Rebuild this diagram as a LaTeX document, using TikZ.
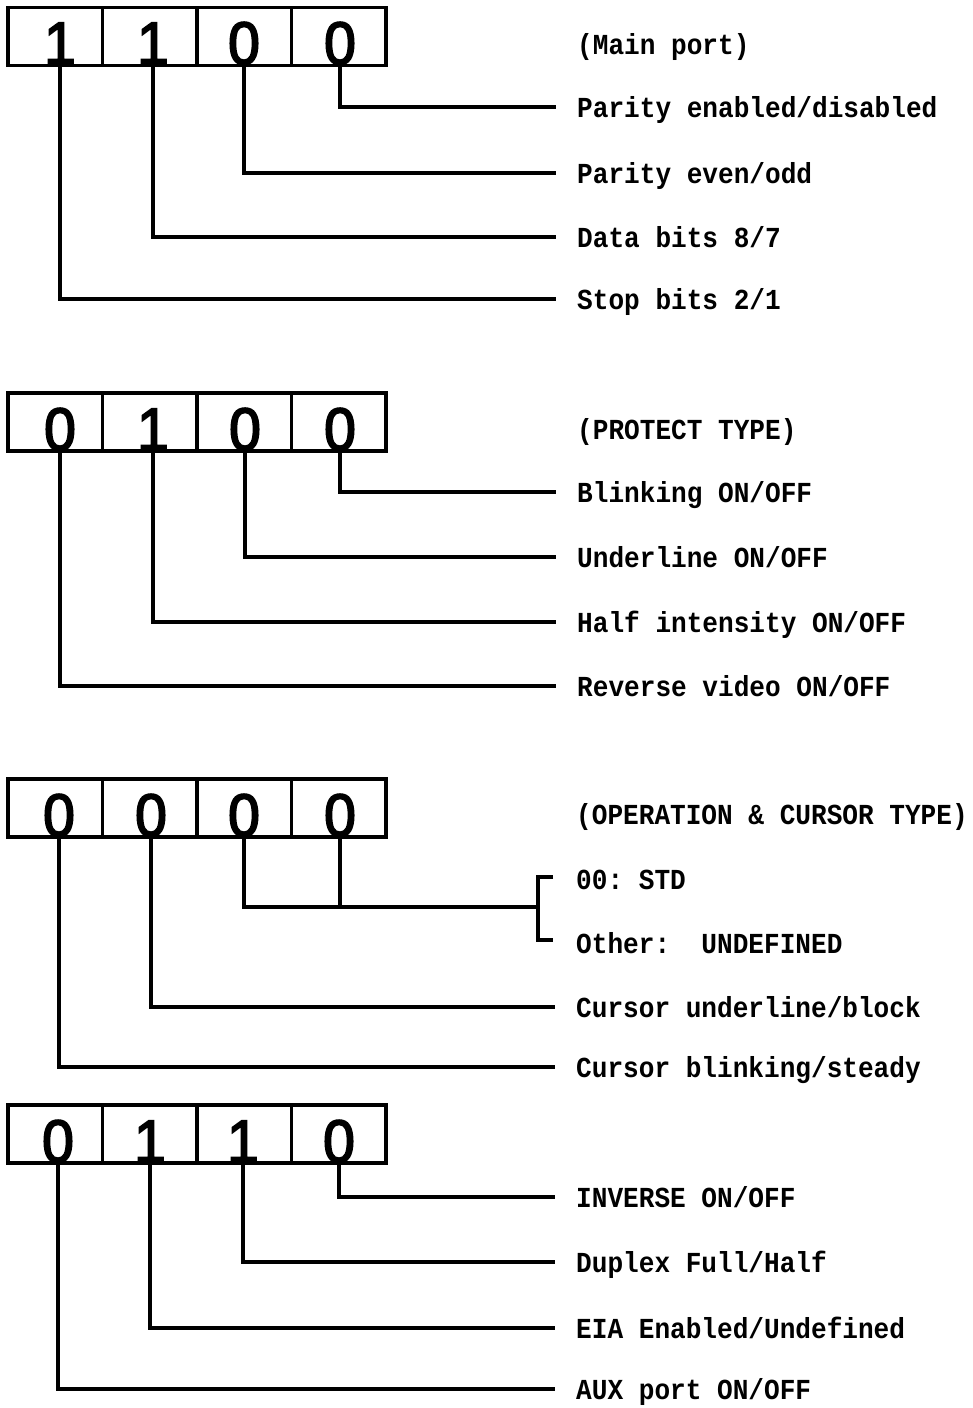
\documentclass[tikz,border=0pt]{standalone}
\usepackage{fontspec}
\newfontfamily\digitfont[FakeBold=3,FakeStretch=0.95]{Liberation Sans}
\newfontfamily\labfont[FakeStretch=0.9]{Liberation Mono}
\frenchspacing
\begin{document}
\begin{tikzpicture}[x=1pt,y=-1pt,
  cell/.style={draw, line width=3.5, minimum width=94.5, minimum height=58, inner sep=0},
  digit/.style={font={\digitfont\fontsize{60}{60}\selectfont}, inner sep=0, anchor=base},
  lab/.style={font={\labfont\bfseries\fontsize{29}{29}\selectfont}, anchor=west, inner xsep=21, inner ysep=0, text height=20, text depth=0},
  conn/.style={line width=3.3, line join=miter}]
\useasboundingbox (0,0) rectangle (972,1408);
% ---------- Box 1 ----------
\foreach \i/\x/\dx/\d in {1/55.25/60/1,2/149.75/153/1,3/244.25/244/0,4/338.75/340/0}{
  \node[cell] (a\i) at (\x,36.5) {};
  \node[digit] (da\i) at (\dx,64) {\d};
}
\node[lab] (ta) at (556,44) {(Main port)};
\node[lab] (la4) at (556,107) {Parity enabled/disabled};
\node[lab] (la3) at (556,173) {Parity even/odd};
\node[lab] (la2) at (556,237) {Data bits 8/7};
\node[lab] (la1) at (556,299) {Stop bits 2/1};
\foreach \i in {1,2,3,4}{ \draw[conn] (da\i.south) |- (la\i.west); }
% ---------- Box 2 ----------
\foreach \i/\x/\dx/\d in {1/55.25/60/0,2/149.75/153/1,3/244.25/245/0,4/338.75/340/0}{
  \node[cell] (b\i) at (\x,422) {};
  \node[digit] (db\i) at (\dx,450) {\d};
}
\node[lab] (tb) at (556,429) {(PROTECT TYPE)};
\node[lab] (lb4) at (556,492) {Blinking ON/OFF};
\node[lab] (lb3) at (556,557) {Underline ON/OFF};
\node[lab] (lb2) at (556,622) {Half intensity ON/OFF};
\node[lab] (lb1) at (556,686) {Reverse video ON/OFF};
\foreach \i in {1,2,3,4}{ \draw[conn] (db\i.south) |- (lb\i.west); }
% ---------- Box 3 ----------
\foreach \i/\x/\dx/\d in {1/55.25/59/0,2/149.75/151/0,3/244.25/244/0,4/338.75/340/0}{
  \node[cell] (c\i) at (\x,808) {};
  \node[digit] (dc\i) at (\dx,836) {\d};
}
\node[lab] (tc) at (555,814) {(OPERATION \& CURSOR TYPE)};
\node[lab] (lstd) at (555,879) {00: STD};
\node[lab] (loth) at (555,943) {Other:\ \ UNDEFINED};
\node[lab] (lc2) at (555,1007) {Cursor underline/block};
\node[lab] (lc1) at (555,1067) {Cursor blinking/steady};
\coordinate (brk) at (538,907);
\coordinate (brkt) at (538,877);
\coordinate (brkb) at (538,940);
\draw[conn] (dc3.south) |- (brk);
\draw[conn] (dc4.south) -- (dc4.south |- brk);
\draw[conn] ([xshift=15]brkt) -- (brkt) -- (brkb) -- ([xshift=15]brkb);
\draw[conn] (dc2.south) |- (lc2.west);
\draw[conn] (dc1.south) |- (lc1.west);
% ---------- Box 4 ----------
\foreach \i/\x/\dx/\d in {1/55.25/58/0,2/149.75/150/1,3/244.25/243/1,4/338.75/339/0}{
  \node[cell] (e\i) at (\x,1134) {};
  \node[digit] (de\i) at (\dx,1162) {\d};
}
\node[lab] (le4) at (555,1197) {INVERSE ON/OFF};
\node[lab] (le3) at (555,1262) {Duplex Full/Half};
\node[lab] (le2) at (555,1328) {EIA Enabled/Undefined};
\node[lab] (le1) at (555,1389) {AUX port ON/OFF};
\foreach \i in {1,2,3,4}{ \draw[conn] (de\i.south) |- (le\i.west); }
\end{tikzpicture}
\end{document}
